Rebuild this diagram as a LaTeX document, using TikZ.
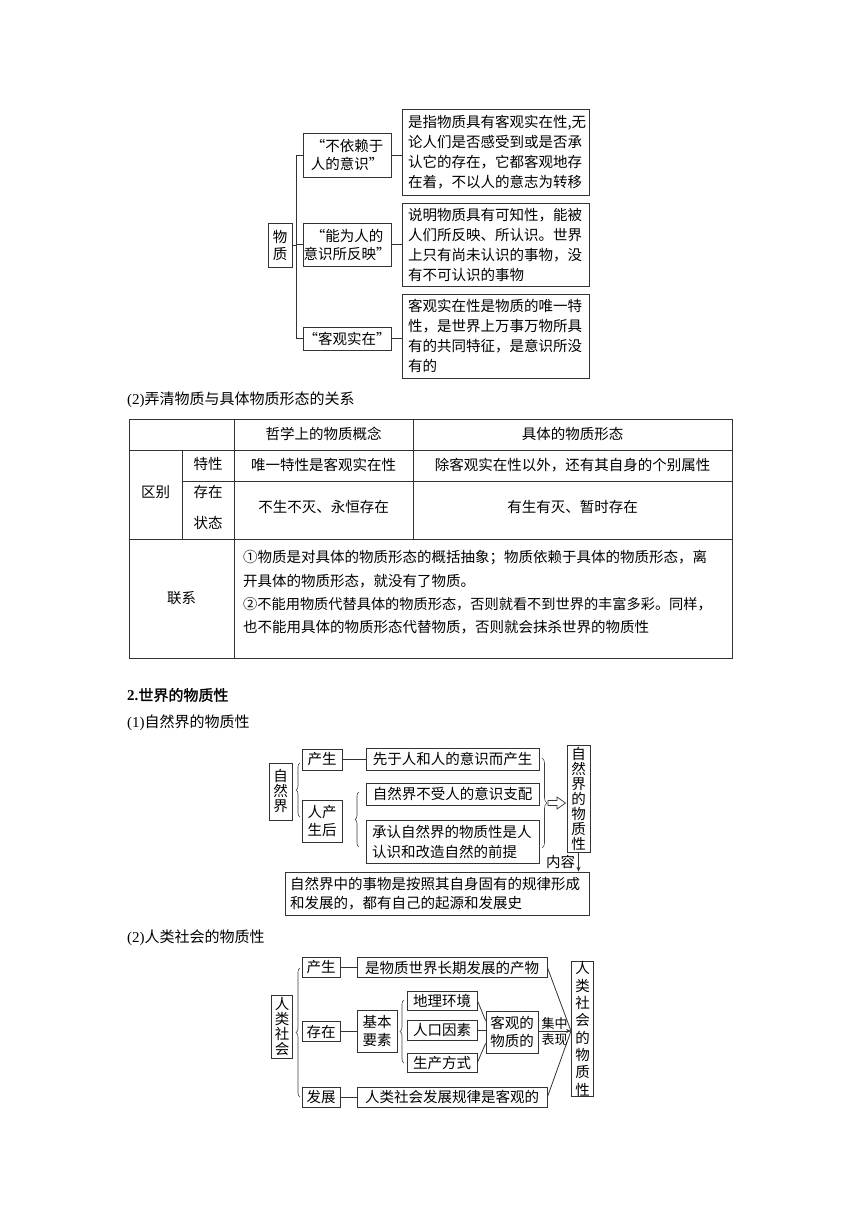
\documentclass[tikz,border=0pt]{standalone}
\usepackage{fontspec}
\setmainfont{Liberation Serif}
\newfontfamily\cjk{Noto Sans CJK SC}
\newfontfamily\cjkbf[FakeBold=1.5]{Noto Sans CJK SC}
\usetikzlibrary{decorations.pathreplacing,arrows.meta}
\tikzset{
  box/.style={draw=black!80, line width=0.8pt, align=center},
  sz/.style 2 args={minimum width=#1, minimum height=#2},
  link/.style={draw=black!80, line width=0.8pt},
  brc/.style={draw=black!75, line width=0.6pt, decorate, decoration={brace, amplitude=#1}},
  brc/.default=4pt,
  headarrow/.style={-{Stealth[length=5pt,width=4pt]}},
  vtext/.style={font=\cjk\fontsize{14.5}{15}\selectfont},
  twoline/.style={font=\cjk\fontsize{14.5}{18}\selectfont},
  cell/.style={font=\cjk\fontsize{14.5}{20}\selectfont}
}
\begin{document}
\begin{tikzpicture}[x=1pt, y=-1pt, inner sep=0pt, font=\cjk\fontsize{14.5}{20}\selectfont]
  \useasboundingbox (0,0) rectangle (860,1216);
  % (1) wuzhi tree
  \node[box, sz={24}{44}, font=\cjk\fontsize{14.5}{17}\selectfont] (wz) at (280,245) {物\\质};
  \node[box, sz={88}{44}, twoline] (q1) at (347,155)   {“不依赖于\\人的意识”};
  \node[box, sz={88}{43}, twoline] (q2) at (347,244.5) {“能为人的\\意识所反映”};
  \node[box, sz={88}{23}]          (q3) at (347,338.5) {“客观实在”};
  \node[box, sz={187}{86}, align=left, text width=175pt] (r1) at (495.5,152)
    {是指物质具有客观实在性,无\\论人们是否感受到或是否承\\认它的存在，它都客观地存\\在着，不以人的意志为转移};
  \node[box, sz={187}{83}, align=left, text width=175pt] (r2) at (495.5,244.5)
    {说明物质具有可知性，能被\\人们所反映、所认识。世界\\上只有尚未认识的事物，没\\有不可认识的事物};
  \node[box, sz={187}{84}, align=left, text width=175pt] (r3) at (495.5,336)
    {客观实在性是物质的唯一特\\性，是世界上万事万物所具\\有的共同特征，是意识所没\\有的};
  \coordinate (trunk) at (296,0);
  \draw[link] (wz.east) -- (wz.east -| trunk);
  \draw[link] (q1.west -| trunk) -- (q3.west -| trunk);
  \foreach \n in {q1,q2,q3}
    \draw[link] (\n.west -| trunk) -- (\n.west);
  \foreach \a/\b in {q1/r1,q2/r2,q3/r3}
    \draw[link] (\a.east) -- (\a.east -| \b.west);

  % (2) table
  \node[anchor=west, font=\cjk\fontsize{15}{18}\selectfont] (h2) at (127,400) {{\rmfamily(2)}弄清物质与具体物质形态的关系};
  \draw[black!80, line width=0.7pt] (129,419) rectangle (732,658)
    (129,450) -- (732,450)
    (182,481) -- (732,481)
    (129,539) -- (732,539)
    (182,450) -- (182,539)
    (234,419) -- (234,658)
    (413,419) -- (413,539);
  \node (t12) at (323.5,434) {哲学上的物质概念};
  \node (t13) at (572.5,434) {具体的物质形态};
  \node (t21) at (208,464)   {特性};
  \node (t22) at (323.5,465) {唯一特性是客观实在性};
  \node (t23) at (572.5,465) {除客观实在性以外，还有其自身的个别属性};
  \node (t20) at (155.5,492) {区别};
  \node[cell, font=\cjk\fontsize{14.5}{31}\selectfont, align=center] (t31) at (208,507.5) {存在\\状态};
  \node (t32) at (323.5,507) {不生不灭、永恒存在};
  \node (t33) at (572.5,507) {有生有灭、暂时存在};
  \node (t40) at (181.5,598) {联系};
  \node[anchor=west] (l1) at (243,558) {①物质是对具体的物质形态的概括抽象；物质依赖于具体的物质形态，离};
  \node[anchor=west] (l2) at (243,581) {开具体的物质形态，就没有了物质。};
  \node[anchor=west, font=\cjk\fontsize{14.2}{20}\selectfont] (l3) at (243,604) {②不能用物质代替具体的物质形态，否则就看不到世界的丰富多彩。同样，};
  \node[anchor=west] (l4) at (243,627) {也不能用具体的物质形态代替物质，否则就会抹杀世界的物质性};

  % 2. nature
  \node[anchor=west, font=\cjkbf\fontsize{15}{18}\selectfont] (h3) at (127,695) {{\rmfamily\bfseries 2.}世界的物质性};
  \node[anchor=west, font=\cjk\fontsize{15}{18}\selectfont] (h4) at (127,723) {{\rmfamily(1)}自然界的物质性};
  \node[box, sz={23}{57}, vtext] (zr) at (280.5,791.5) {自\\然\\界};
  \draw[brc] (300,817) -- (300,763);
  \node[box, sz={40}{21}]         (cs) at (322,759.5) {产生};
  \node[box, sz={40}{42}, twoline] (rh) at (322,821)   {人产\\生后};
  \node[box, sz={173}{22}] (xy) at (452.5,759) {先于人和人的意识而产生};
  \node[box, sz={173}{22}] (bz) at (452.5,794) {自然界不受人的意识支配};
  \node[box, sz={173}{43}, align=left, text width=161pt] (cr) at (452.5,841.5)
    {承认自然界的物质性是人\\认识和改造自然的前提};
  \draw[link] (cs.east) -- (cs.east -| xy.west);
  \draw[brc] (359,847) -- (359,792);
  \draw[brc=5pt] (542,758) -- (542,848);
  \node[box, sz={23}{107}, vtext] (nw) at (578.5,798.5) {自\\然\\界\\的\\物\\质\\性};
  \coordinate (hol) at (548,803);
  \draw[link, line width=0.7pt] (hol) ++(0,-2.5) -- ++(9,0) -- ++(0,-3.5) -- ++(8.5,6)
    -- ++(-8.5,6) -- ++(0,-3.5) -- ++(-9,0) -- cycle;
  \node[box, sz={304}{43}, align=left, text width=294pt, font=\cjk\fontsize{14.5}{19}\selectfont] (nr) at (437,893.5)
    {自然界中的事物是按照其自身固有的规律形成\\和发展的，都有自己的起源和发展史};
  \draw[link, headarrow] (nw.south) -- (nw.south |- nr.north) node[midway, left=3pt] {内容};

  % (2) society
  \node[anchor=west, font=\cjk\fontsize{15}{18}\selectfont] (h5) at (127,938) {{\rmfamily(2)}人类社会的物质性};
  \node[box, sz={21}{63}, vtext] (hs) at (282,1026.5) {人\\类\\社\\会};
  \draw[brc] (300,1097) -- (300,968);
  \node[box, sz={38}{20}] (s1) at (321,967.5) {产生};
  \node[box, sz={38}{20}] (s2) at (321,1031.5) {存在};
  \node[box, sz={38}{20}] (s3) at (321,1097) {发展};
  \node[box, sz={190}{20}] (p1) at (452,967.5) {是物质世界长期发展的产物};
  \node[box, sz={190}{20}] (p3) at (452,1097) {人类社会发展规律是客观的};
  \node[box, sz={40}{42}, twoline] (jb) at (377,1031) {基本\\要素};
  \draw[brc] (404,1063) -- (404,1000);
  \node[box, sz={70}{19}] (d1) at (442,1000.5) {地理环境};
  \node[box, sz={70}{20}] (d2) at (442,1030) {人口因素};
  \node[box, sz={70}{19}] (d3) at (442,1062.5) {生产方式};
  \node[box, sz={52}{42}, twoline] (kg) at (512,1032) {客观的\\物质的};
  \node[box, sz={22}{128}, font=\cjk\fontsize{14.5}{17.3}\selectfont] (sm) at (582.5,1029)
    {人\\类\\社\\会\\的\\物\\质\\性};
  \coordinate (meet) at (571,1031);
  \draw[link] (s1.east) -- (s1.east -| p1.west);
  \draw[link] (s2.east) -- (s2.east -| jb.west);
  \draw[link] (s3.east) -- (s3.east -| p3.west);
  \draw[link] (d1.east) -- ([yshift=-10pt]kg.north west);
  \draw[link] (d2.east) -- (d2.east -| kg.west);
  \draw[link] (d3.east) -- ([yshift=10pt]kg.south west);
  \draw[link] (p1.east) -- (meet);
  \draw[link] (p3.east) -- (meet);
  \draw[link, headarrow] (kg.east |- meet) -- (meet)
    node[midway, above=1pt, font=\cjk\fontsize{13}{15}\selectfont] {集中}
    node[midway, below=2pt, font=\cjk\fontsize{13}{15}\selectfont] {表现};
\end{tikzpicture}
\end{document}
